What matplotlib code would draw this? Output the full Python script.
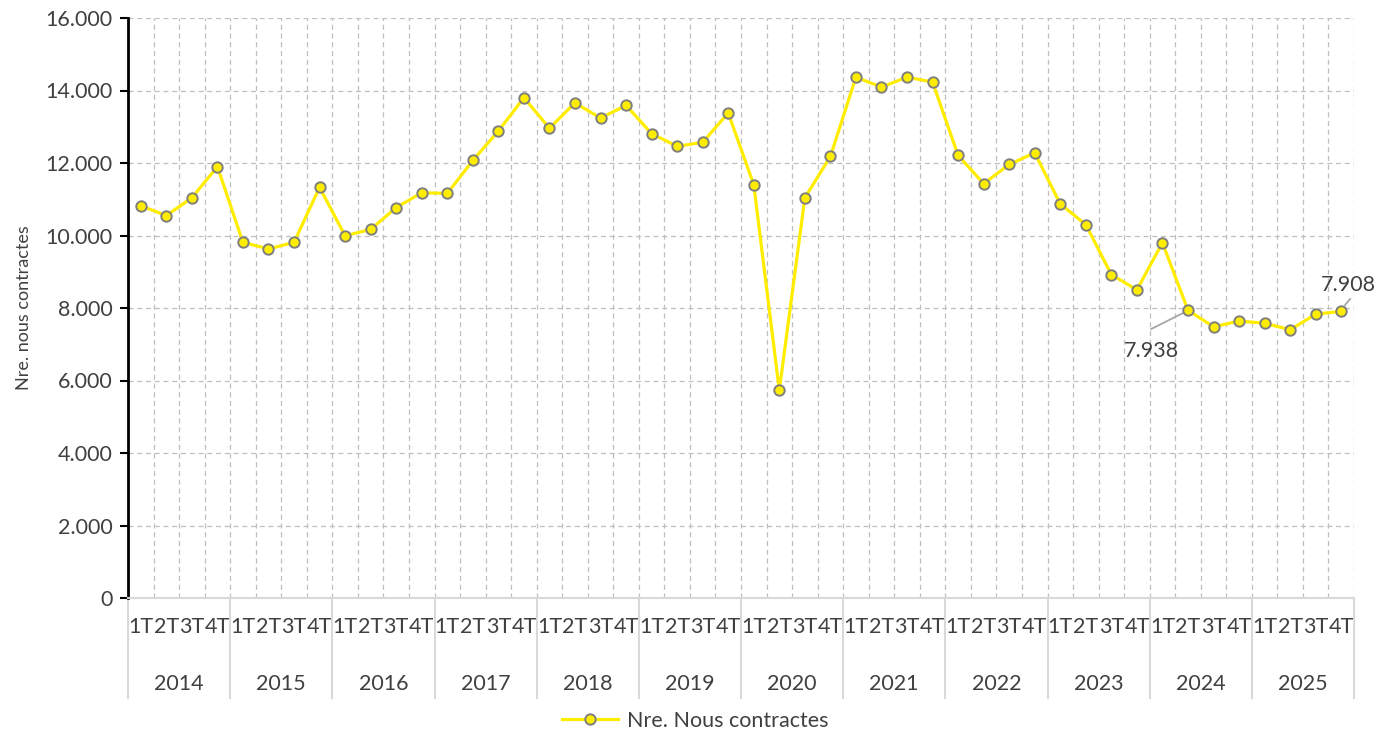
import matplotlib.pyplot as plt
import matplotlib.transforms as mtransforms
from matplotlib.ticker import FuncFormatter, MultipleLocator

plt.rcParams['font.family'] = ['Lato', 'DejaVu Sans']

years = ['2014', '2015', '2016', '2017', '2018', '2019',
         '2020', '2021', '2022', '2023', '2024', '2025']
quarters = ['1T', '2T', '3T', '4T']

# quarterly values, 2014 1T .. 2025 4T
contractes = [
    10820, 10550, 11040, 11900,
    9810, 9630, 9810, 11330,
    9990, 10170, 10770, 11180,
    11160, 12070, 12880, 13800,
    12960, 13660, 13240, 13590,
    12810, 12460, 12570, 13380,
    11400, 5730, 11040, 12180,
    14370, 14090, 14370, 14230,
    12210, 11430, 11960, 12280,
    10870, 10300, 8920, 8500,
    9800, 7938, 7480, 7640,
    7580, 7400, 7830, 7908,
]


def fmt(v):
    return f'{v:,.0f}'.replace(',', '.')


W, H = 1392, 736
fig = plt.figure(figsize=(W / 100, H / 100), dpi=100)
ax = fig.add_axes([128 / W, (H - 598) / H, 1226 / W, 580 / H])

n = len(contractes)
x = list(range(n))
txt = '#404040'
fs = 15.5

line, = ax.plot(x, contractes, color='#FFED00', lw=2.3, marker='o', ms=7.5,
                mfc='#FFED00', mec='#7f7f7f', mew=1.4, zorder=3,
                label='Nre. Nous contractes')

ax.set_xlim(-0.5, n - 0.5)
ax.set_ylim(0, 16000)
ax.yaxis.set_major_locator(MultipleLocator(2000))
ax.yaxis.set_major_formatter(FuncFormatter(lambda v, p: fmt(v)))

# grid: horizontal at y ticks, vertical at quarter boundaries
for yv in range(2000, 16001, 2000):
    ax.axhline(yv, color='#bfbfbf', lw=0.9, ls=(0, (4, 3)), zorder=1)
for k in range(1, n + 1):
    ax.axvline(k - 0.5, color='#bfbfbf', lw=0.9, ls=(0, (4, 3)), zorder=1)

for s in ['top', 'right']:
    ax.spines[s].set_visible(False)
ax.spines['left'].set_color('black')
ax.spines['left'].set_linewidth(2)
ax.spines['bottom'].set_color('#d9d9d9')
ax.spines['bottom'].set_linewidth(1.5)

ax.tick_params(axis='y', direction='out', length=6, width=1.5, colors='black',
               labelcolor=txt, labelsize=fs, pad=5)

ax.set_xticks(x)
ax.set_xticklabels(quarters * len(years), fontsize=fs, color=txt)
ax.tick_params(axis='x', length=0, pad=14)

ax.set_ylabel('Nre. nous contractes', fontsize=13, color=txt, labelpad=10)

# year row and separators under the axis
tr = mtransforms.blended_transform_factory(ax.transData, ax.transAxes)
for i, yr in enumerate(years):
    ax.text(4 * i + 1.5, -0.148, yr, transform=tr, ha='center', va='center',
            fontsize=fs, color=txt)
for i in range(len(years) + 1):
    ax.plot([4 * i - 0.5, 4 * i - 0.5], [0, -0.172], transform=tr,
            color='#d9d9d9', lw=1.5, clip_on=False, zorder=2)

# data labels with leader lines
ax.plot([39.56, 40.8], [7420, 7860], color='#a6a6a6', lw=1.3, zorder=2)
ax.text(39.56, 7080, fmt(contractes[41]), ha='center', va='top',
        fontsize=fs, color=txt)
ax.plot([47.15, 47.35], [8080, 8250], color='#a6a6a6', lw=1.3, zorder=2,
        clip_on=False)
ax.text(47.27, 8350, fmt(contractes[47]), ha='center', va='bottom',
        fontsize=fs, color=txt, clip_on=False)

fig.legend(handles=[line], loc='center', bbox_to_anchor=(695 / W, 1 - 721 / H),
           frameon=False, fontsize=fs, labelcolor=txt, handlelength=2.6,
           handletextpad=0.4)

fig.savefig('out.png', dpi=100)
